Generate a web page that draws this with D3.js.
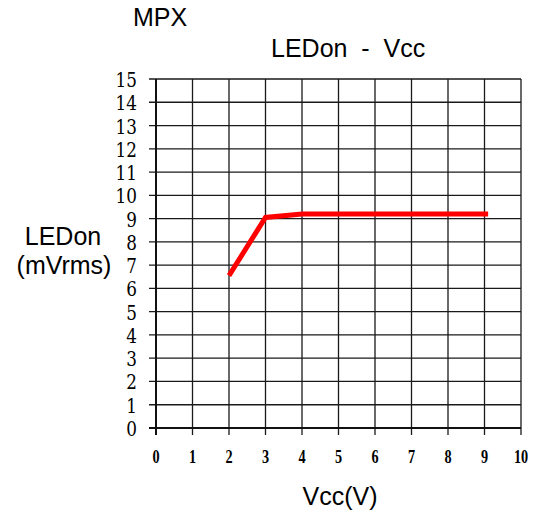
<!DOCTYPE html>
<html><head><meta charset="utf-8">
<script src="https://cdn.jsdelivr.net/npm/d3@7"></script>
<style>body{margin:0;background:#fff}svg{display:block}</style>
</head><body>
<script>
const vcc = [2, 3, 4, 9.1];
const ledon = [6.55, 9.05, 9.2, 9.2];
const xTicks = [0,1,2,3,4,5,6,7,8,9,10];
const yTicks = [0,1,2,3,4,5,6,7,8,9,10,11,12,13,14,15];
const chartTitle = "MPX";
const subTitle = "LEDon  -  Vcc";
const yLabel = ["LEDon", "(mVrms)"];
const xLabel = "Vcc(V)";

const W = 536, H = 515;
const svg = d3.select("body").append("svg").attr("width", W).attr("height", H);
const x = d3.scaleLinear().domain([0, 10]).range([156, 521]);
const y = d3.scaleLinear().domain([0, 15]).range([428, 79]);

// grid
svg.append("g").selectAll("line.v").data(xTicks).join("line")
  .attr("x1", d => x(d)).attr("x2", d => x(d)).attr("y1", y(15)).attr("y2", y(0) + 7)
  .attr("stroke", "#1a1a1a").attr("stroke-width", 1.3);
svg.append("g").selectAll("line.h").data(yTicks).join("line")
  .attr("y1", d => y(d)).attr("y2", d => y(d)).attr("x1", x(0) - 7).attr("x2", x(10))
  .attr("stroke", "#1a1a1a").attr("stroke-width", 1.3);
// axes
svg.append("line").attr("x1", x(0)).attr("x2", x(0)).attr("y1", y(15)).attr("y2", y(0) + 7)
  .attr("stroke", "#111").attr("stroke-width", 2);
svg.append("line").attr("x1", x(0) - 7).attr("x2", x(10)).attr("y1", y(0)).attr("y2", y(0))
  .attr("stroke", "#111").attr("stroke-width", 2);

// tick labels
svg.append("g").selectAll("text").data(yTicks).join("text")
  .attr("transform", d => `translate(137,${y(d) + 8}) scale(0.85,1)`)
  .attr("text-anchor", "end")
  .attr("font-family", "DejaVu Serif").attr("font-size", 19.8)
  .attr("fill", "#000").text(d => d);
svg.append("g").selectAll("text").data(xTicks).join("text")
  .attr("transform", d => `translate(${x(d)},463) scale(0.75,1)`)
  .attr("text-anchor", "middle")
  .attr("font-family", "Liberation Serif").attr("font-size", 19).attr("font-weight", "bold")
  .attr("fill", "#000").text(d => d);

// line
const line = d3.line().x((d, i) => x(vcc[i])).y(d => y(d));
svg.append("path").datum(ledon).attr("d", line)
  .attr("fill", "none").attr("stroke", "#ff0000").attr("stroke-width", 5)
  .attr("stroke-linejoin", "miter");

// titles
const sans = "Liberation Sans, Arial, sans-serif";
svg.append("text").attr("x", 133).attr("y", 26).attr("font-family", sans).attr("font-size", 25).text(chartTitle);
svg.append("text").attr("x", 271).attr("y", 57).attr("font-family", sans).attr("font-size", 25)
  .style("white-space", "pre").text(subTitle);
svg.append("text").attr("x", 63).attr("y", 245).attr("text-anchor", "middle").attr("font-family", sans).attr("font-size", 25).text(yLabel[0]);
svg.append("text").attr("x", 64).attr("y", 274).attr("text-anchor", "middle").attr("font-family", sans).attr("font-size", 25).text(yLabel[1]);
svg.append("text").attr("x", 340).attr("y", 505).attr("text-anchor", "middle").attr("font-family", sans).attr("font-size", 25).text(xLabel);
</script>
</body></html>
